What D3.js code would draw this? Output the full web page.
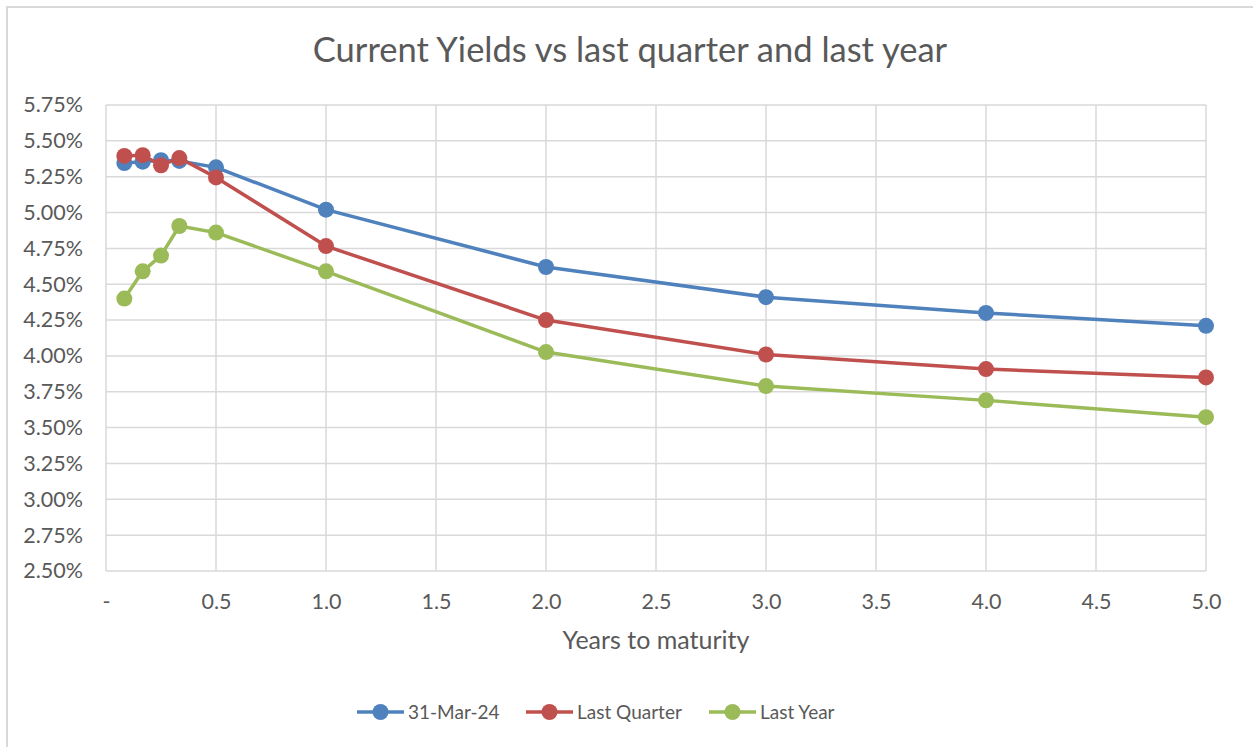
<!DOCTYPE html>
<html>
<head>
<meta charset="utf-8">
<script src="https://cdn.jsdelivr.net/npm/d3@7"></script>
<style>
  html, body { margin: 0; padding: 0; background: #fff; }
  svg { display: block; font-family: Lato, "Open Sans", sans-serif; }
</style>
</head>
<body>
<svg id="chart" width="1253" height="747"></svg>
<script>
/* ---------- data ---------- */
const maturities = [1/12, 2/12, 3/12, 4/12, 0.5, 1, 2, 3, 4, 5];
const current    = [5.345, 5.355, 5.365, 5.36, 5.315, 5.02, 4.62, 4.41, 4.30, 4.21];
const lastQuarter = [5.395, 5.40, 5.33, 5.38, 5.245, 4.766, 4.25, 4.01, 3.908, 3.85];
const lastYear   = [4.40, 4.59, 4.70, 4.906, 4.86, 4.59, 4.027, 3.79, 3.69, 3.573];
const seriesNames = ["31-Mar-24", "Last Quarter", "Last Year"];
const seriesColors = ["#4f81bd", "#c0504d", "#9bbb59"];
const xTicks = [0, 0.5, 1, 1.5, 2, 2.5, 3, 3.5, 4, 4.5, 5];
const yTicks = [2.5, 2.75, 3, 3.25, 3.5, 3.75, 4, 4.25, 4.5, 4.75, 5, 5.25, 5.5, 5.75];

const series = [current, lastQuarter, lastYear].map((vals, i) => ({
  name: seriesNames[i],
  color: seriesColors[i],
  points: vals.map((v, j) => ({ x: maturities[j], y: v }))
}));

/* ---------- layout ---------- */
const svg = d3.select("#chart");
const plot = { left: 106, top: 105, right: 1206, bottom: 571 };
const textColor = "#595959";
const gridColor = "#d9d9d9";

const x = d3.scaleLinear().domain([0, 5]).range([plot.left, plot.right]);
const y = d3.scaleLinear().domain([2.5, 5.75]).range([plot.bottom, plot.top]);

// chart border (only top/left edges are visible in the frame)
svg.append("rect")
  .attr("x", 7).attr("y", 7)
  .attr("width", 1260).attr("height", 760)
  .attr("fill", "none")
  .attr("stroke", gridColor)
  .attr("stroke-width", 2);

// title
svg.append("text")
  .attr("x", 630).attr("y", 62)
  .attr("text-anchor", "middle")
  .attr("font-size", 34.5)
  .attr("fill", textColor)
  .text("Current Yields vs last quarter and last year");

// gridlines
const grid = svg.append("g");
grid.selectAll(".hg").data(yTicks).enter().append("line")
  .attr("x1", plot.left).attr("x2", plot.right)
  .attr("y1", d => y(d)).attr("y2", d => y(d))
  .attr("stroke", gridColor).attr("stroke-width", 1.5);
grid.selectAll(".vg").data(xTicks).enter().append("line")
  .attr("x1", d => x(d)).attr("x2", d => x(d))
  .attr("y1", plot.top).attr("y2", plot.bottom)
  .attr("stroke", gridColor).attr("stroke-width", 1.5);

// axes
const yAxis = d3.axisLeft(y).tickValues(yTicks)
  .tickFormat(d => d.toFixed(2) + "%").tickSize(0).tickPadding(23);
const xAxis = d3.axisBottom(x).tickValues(xTicks)
  .tickFormat(d => d === 0 ? "-" : d.toFixed(1)).tickSize(0).tickPadding(23);

const gy = svg.append("g").attr("transform", `translate(${plot.left},0)`).call(yAxis);
const gx = svg.append("g").attr("transform", `translate(0,${plot.bottom})`).call(xAxis);
[gx, gy].forEach(g => {
  g.select(".domain").remove();
  g.selectAll("text").attr("fill", textColor).attr("font-size", 21.5)
    .attr("font-family", "Lato, 'Open Sans', sans-serif");
});

// axis title
svg.append("text")
  .attr("x", (plot.left + plot.right) / 2).attr("y", 649)
  .attr("text-anchor", "middle")
  .attr("font-size", 25)
  .attr("fill", textColor)
  .text("Years to maturity");

// lines + markers
const line = d3.line().x(d => x(d.x)).y(d => y(d.y));
const sg = svg.append("g").selectAll("g").data(series).enter().append("g");
sg.append("path")
  .attr("d", d => line(d.points))
  .attr("fill", "none")
  .attr("stroke", d => d.color)
  .attr("stroke-width", 3.5)
  .attr("stroke-linejoin", "round");
sg.selectAll("circle").data(d => d.points.map(p => ({ ...p, color: d.color })))
  .enter().append("circle")
  .attr("cx", d => x(d.x)).attr("cy", d => y(d.y))
  .attr("r", 8)
  .attr("fill", d => d.color);

// legend
const legendX = [357, 526, 709];
const legendY = 712;
const lg = svg.append("g").selectAll("g").data(series).enter().append("g")
  .attr("transform", (d, i) => `translate(${legendX[i]},${legendY})`);
lg.append("line")
  .attr("x1", 0).attr("x2", 47).attr("y1", 0).attr("y2", 0)
  .attr("stroke", d => d.color).attr("stroke-width", 3.5);
lg.append("circle").attr("cx", 23.5).attr("cy", 0).attr("r", 8)
  .attr("fill", d => d.color);
lg.append("text")
  .attr("x", 51).attr("y", 7)
  .attr("font-size", 19)
  .attr("fill", textColor)
  .text(d => d.name);
</script>
</body>
</html>
